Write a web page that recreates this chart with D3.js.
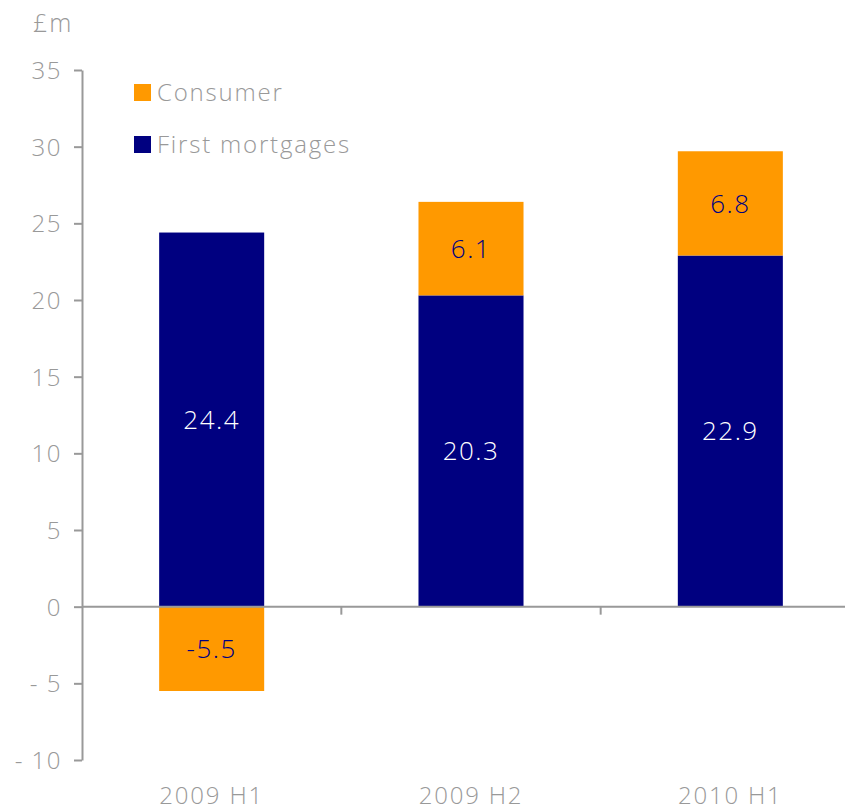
<!DOCTYPE html>
<html><head><meta charset="utf-8">
<script src="https://cdn.jsdelivr.net/npm/d3@7"></script>
<style>
html,body{margin:0;padding:0;background:#fff;}
svg text{font-family:"Open Sans","Noto Sans",sans-serif;font-weight:300;}
</style></head>
<body>
<svg id="chart" width="845" height="811"></svg>
<script>
const categories = ["2009 H1", "2009 H2", "2010 H1"];
const firstMortgages = [24.4, 20.3, 22.9];
const consumer = [-5.5, 6.1, 6.8];
const yTicks = [-10, -5, 0, 5, 10, 15, 20, 25, 30, 35];
const seriesNames = ["Consumer", "First mortgages"];
const colors = {"Consumer": "#FF9900", "First mortgages": "#000080"};
const gray = "#999999";
const FONT = '"Open Sans","Noto Sans",sans-serif';

const svg = d3.select("#chart");
const y = d3.scaleLinear().domain([-10, 35]).range([760, 70]);
const x = d3.scaleBand().domain(categories).range([82, 860]).paddingInner(0.595).paddingOuter(0.2975);

const segs = [];
categories.forEach((c, i) => {
  let pos = 0, neg = 0;
  [["First mortgages", firstMortgages[i]], ["Consumer", consumer[i]]].forEach(([s, v]) => {
    let y0, y1;
    if (v >= 0) { y0 = pos; y1 = pos + v; pos = y1; }
    else { y0 = neg; y1 = neg + v; neg = y1; }
    segs.push({cat: c, series: s, value: v, y0, y1});
  });
});

svg.append("g").selectAll("rect").data(segs).join("rect")
  .attr("x", d => x(d.cat))
  .attr("width", x.bandwidth())
  .attr("y", d => y(Math.max(d.y0, d.y1)))
  .attr("height", d => Math.abs(y(d.y0) - y(d.y1)))
  .attr("fill", d => colors[d.series]);

const fmt = d => d < 0 ? "- " + Math.abs(d) : String(d);
const yAxis = svg.append("g").attr("transform", "translate(82,0)")
  .call(d3.axisLeft(y).tickValues(yTicks).tickFormat(fmt).tickSize(8).tickPadding(12).tickSizeOuter(0));
yAxis.attr("font-family", FONT).attr("font-size", 24);
yAxis.select(".domain").attr("stroke", gray).attr("stroke-width", 2);
yAxis.selectAll(".tick line").attr("stroke", gray).attr("stroke-width", 2);
yAxis.selectAll(".tick text").attr("fill", gray).attr("font-size", 24).attr("letter-spacing", "1.5px")
  .attr("dy", "0.36em");

const step = x.step();
svg.append("line").attr("x1", 82).attr("x2", 845).attr("y1", y(0)).attr("y2", y(0))
  .attr("stroke", gray).attr("stroke-width", 2);
svg.append("g").selectAll("line").data(categories.slice(0, -1)).join("line")
  .attr("x1", d => x(d) + x.bandwidth() + (step - x.bandwidth()) / 2)
  .attr("x2", d => x(d) + x.bandwidth() + (step - x.bandwidth()) / 2)
  .attr("y1", y(0)).attr("y2", y(0) + 8)
  .attr("stroke", gray).attr("stroke-width", 2);

svg.append("g").selectAll("text").data(categories).join("text")
  .attr("x", d => x(d) + x.bandwidth() / 2)
  .attr("y", 804)
  .attr("text-anchor", "middle")
  .attr("fill", gray).attr("font-size", 24).attr("letter-spacing", "1.8px")
  .text(d => d);

svg.append("g").selectAll("text").data(segs).join("text")
  .attr("x", d => x(d.cat) + x.bandwidth() / 2)
  .attr("y", d => y((d.y0 + d.y1) / 2))
  .attr("dy", "0.36em")
  .attr("text-anchor", "middle")
  .attr("font-size", 26).attr("letter-spacing", "1.5px")
  .attr("fill", d => d.series === "First mortgages" ? "#ffffff" : "#000080")
  .text(d => d.value.toFixed(1));

svg.append("text").attr("x", 33).attr("y", 32).attr("fill", gray)
  .attr("font-size", 25).attr("letter-spacing", "2px").text("£m");

const leg = svg.append("g").selectAll("g").data(seriesNames).join("g")
  .attr("transform", (d, i) => `translate(134,${84 + i * 52})`);
leg.append("rect").attr("width", 17).attr("height", 17).attr("fill", d => colors[d]);
leg.append("text").attr("x", 23).attr("y", 17).attr("fill", gray)
  .attr("font-size", 24).attr("letter-spacing", "1.8px").text(d => d);
</script>
</body></html>
